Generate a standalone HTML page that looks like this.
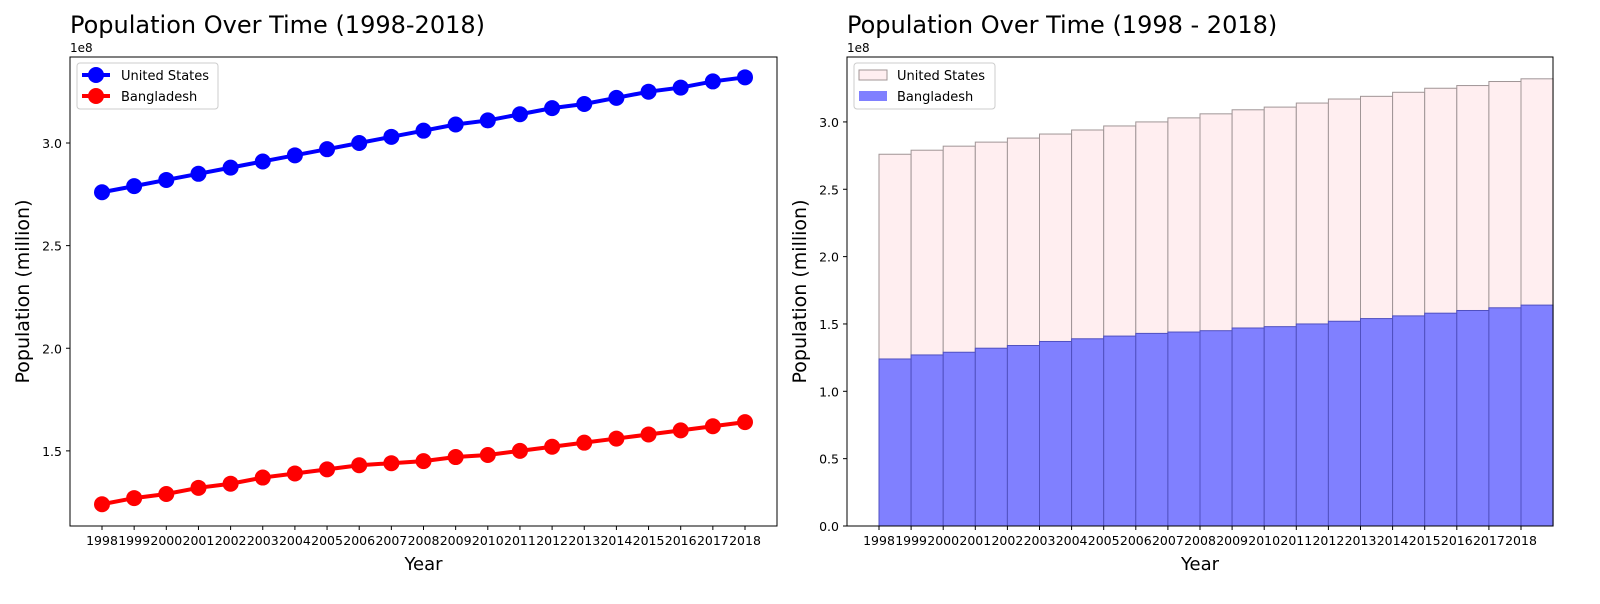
<!DOCTYPE html>
<html><head><meta charset="utf-8">
<style>body{margin:0;background:#fff;font-family:"DejaVu Sans","Liberation Sans",sans-serif}svg text{font-family:"DejaVu Sans","Liberation Sans",sans-serif}</style>
</head><body>
<svg id="c" width="1600" height="600" xmlns="http://www.w3.org/2000/svg"></svg>
<script>
const years=[1998,1999,2000,2001,2002,2003,2004,2005,2006,2007,2008,2009,2010,2011,2012,2013,2014,2015,2016,2017,2018];
const usPop=[276,279,282,285,288,291,294,297,300,303,306,309,311,314,317,319,322,325,327,330,332];
const bdPop=[124,127,129,132,134,137,139,141,143,144,145,147,148,150,152,154,156,158,160,162,164];
const leftTicks=[1.5,2.0,2.5,3.0];
const rightTicks=[0,0.5,1.0,1.5,2.0,2.5,3.0];
const svg=document.getElementById('c');
const NS='http://www.w3.org/2000/svg';
function mk(t,a,txt){const e=document.createElementNS(NS,t);for(const k in a)e.setAttribute(k,a[k]);if(txt!==undefined)e.textContent=txt;svg.appendChild(e);return e;}
// Left
const Lx0=70,Lx1=777,Ly0=57,Ly1=526,Lmin=1.134,Lmax=3.419;
const lx=y=>102+(y-1998)*(745-102)/20;
const ly=v=>Ly1-(v-Lmin)/(Lmax-Lmin)*(Ly1-Ly0);
let t=mk('text',{x:70,y:33,'font-size':24},'Population Over Time (1998-2018)');

t=mk('text',{x:70,y:52,'font-size':12},'1e8');

leftTicks.forEach(v=>{const y=ly(v);
 let l=mk('line',{x1:Lx0-4,x2:Lx0,y1:y,y2:y,stroke:'#000'});
 let s=mk('text',{x:Lx0-8,y:y+5,'font-size':12.5,'text-anchor':'end'},v.toFixed(1));});
years.forEach(yr=>{const x=lx(yr);
 let l=mk('line',{x1:x,x2:x,y1:Ly1,y2:Ly1+4,stroke:'#000'});
 let s=mk('text',{x:x,y:Ly1+19,'font-size':12.5,'text-anchor':'middle'},yr);});
[[usPop,'#0000ff','us'],[bdPop,'#ff0000','bd']].forEach(([d,c,n])=>{
 let p=mk('polyline',{points:d.map((v,i)=>lx(years[i])+','+ly(v/100)).join(' '),fill:'none',stroke:c,'stroke-width':4});
 
 d.forEach((v,i)=>{let m=mk('circle',{cx:lx(years[i]),cy:ly(v/100),r:8,fill:c});});});
let r=mk('rect',{x:Lx0,y:Ly0,width:Lx1-Lx0,height:Ly1-Ly0,fill:'none',stroke:'#000','stroke-width':1});

t=mk('text',{x:(Lx0+Lx1)/2,y:570,'font-size':18,'text-anchor':'middle'},'Year');
t=mk('text',{x:0,y:0,'font-size':19,'text-anchor':'middle',transform:`translate(29,${(Ly0+Ly1)/2}) rotate(-90)`},'Population (million)');
r=mk('rect',{x:77,y:63,width:141,height:46,fill:'#fff',stroke:'#ccc',rx:3});
[['United States','#0000ff',75],['Bangladesh','#ff0000',96]].forEach(([n,c,y])=>{
 let l=mk('line',{x1:82,x2:110,y1:y,y2:y,stroke:c,'stroke-width':4});
 let m=mk('circle',{cx:96,cy:y,r:8,fill:c});
 let s=mk('text',{x:121,y:y+5,'font-size':13},n);});
// Right
const Rx0=847,Rx1=1553,Ry0=57,Ry1=526,Rmax=3.482;
const rx=y=>879+(y-1998)*(1521-879)/20;
const bw=(1521-879)/20;
const ry=v=>Ry1-v/Rmax*(Ry1-Ry0);
t=mk('text',{x:847,y:33,'font-size':24},'Population Over Time (1998 - 2018)');
t=mk('text',{x:847,y:52,'font-size':12},'1e8');
usPop.forEach((v,i)=>{let b=mk('rect',{x:rx(years[i]),y:ry(v/100),width:bw,height:Ry1-ry(v/100),fill:'#ffeef0',stroke:'#a09596','stroke-width':1});});
bdPop.forEach((v,i)=>{let b=mk('rect',{x:rx(years[i]),y:ry(v/100),width:bw,height:Ry1-ry(v/100),fill:'#8080ff',stroke:'#5050c0','stroke-width':1});});
rightTicks.forEach(v=>{const y=ry(v);
 let l=mk('line',{x1:Rx0-4,x2:Rx0,y1:y,y2:y,stroke:'#000'});
 let s=mk('text',{x:Rx0-8,y:y+5,'font-size':12.5,'text-anchor':'end'},v.toFixed(1));});
years.forEach(yr=>{const x=rx(yr);
 let l=mk('line',{x1:x,x2:x,y1:Ry1,y2:Ry1+4,stroke:'#000'});
 let s=mk('text',{x:x,y:Ry1+19,'font-size':12.5,'text-anchor':'middle'},yr);});
r=mk('rect',{x:Rx0,y:Ry0,width:Rx1-Rx0,height:Ry1-Ry0,fill:'none',stroke:'#000','stroke-width':1});
t=mk('text',{x:(Rx0+Rx1)/2,y:570,'font-size':18,'text-anchor':'middle'},'Year');
t=mk('text',{x:0,y:0,'font-size':19,'text-anchor':'middle',transform:`translate(806,${(Ry0+Ry1)/2}) rotate(-90)`},'Population (million)');
r=mk('rect',{x:854,y:63,width:141,height:46,fill:'#fff',stroke:'#ccc',rx:3});
[['United States','#ffeef0','#a09596',75],['Bangladesh','#8080ff','none',96]].forEach(([n,c,s2,y])=>{
 let b=mk('rect',{x:859,y:y-5,width:28,height:10,fill:c,stroke:s2});
 let s=mk('text',{x:897,y:y+5,'font-size':13},n);});
</script>
</body></html>
